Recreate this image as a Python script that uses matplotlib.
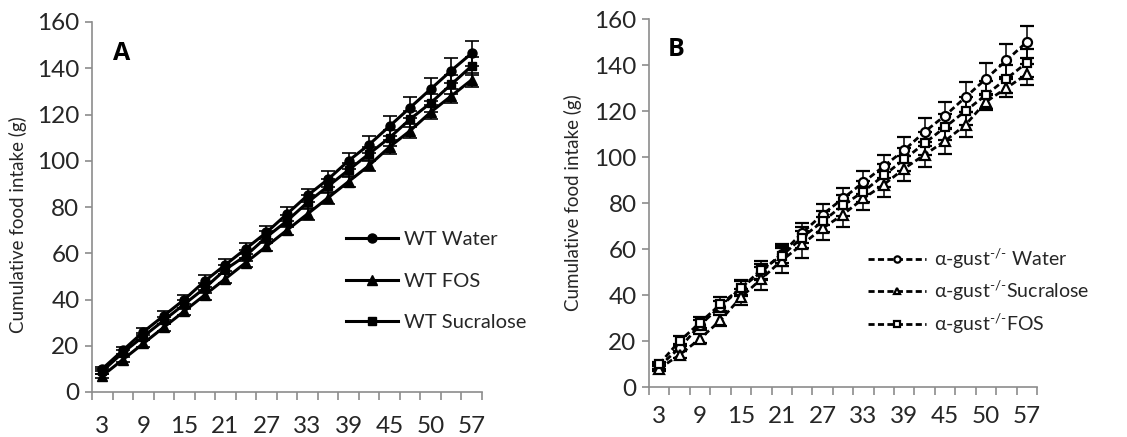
import matplotlib.pyplot as plt
import numpy as np
from matplotlib.ticker import FixedLocator

plt.rcParams['font.family'] = ['Lato', 'DejaVu Sans']
plt.rcParams['mathtext.fontset'] = 'custom'
plt.rcParams['mathtext.rm'] = 'Lato'

# Dados
days = [3, 6, 9, 12, 15, 18, 21, 24, 27, 30, 33, 36, 39, 42, 45, 48, 50, 54, 57]
day_labels = ['3', '', '9', '', '15', '', '21', '', '27', '', '33', '', '39', '', '45', '', '50', '', '57']

wt_water = [10, 18, 26, 33, 40, 48, 55, 62, 69, 77, 85, 92, 100, 107, 115, 123, 131, 139, 146.5]
wt_water_err = [1, 1.5, 1.5, 2, 2, 2.5, 2.5, 2.5, 3, 3, 3, 3.5, 3.5, 3.5, 4.5, 4.7, 5, 5.5, 5.5]
wt_fos = [7, 14, 21, 28, 35, 42, 49, 56, 63, 70, 77, 84, 91, 98, 106, 113, 121, 128, 135]
wt_fos_err = [1, 1, 1.5, 1.5, 1.5, 2, 2, 2, 2, 2, 2.5, 2.5, 2.5, 2.5, 3, 3, 3, 3, 3]
wt_suc = [9, 17, 24, 31, 38, 45, 53, 59, 67, 74, 82, 89, 96, 103, 110, 118, 125, 133, 141]
wt_suc_err = [1, 1, 1.5, 1.5, 2, 2, 2, 2.5, 2.5, 2.5, 3, 3, 3, 3, 3.5, 3.5, 4, 4, 4]

ko_water = [9, 17, 27, 35, 43, 50, 58, 67, 75, 82, 89, 96, 103, 111, 118, 126, 134, 142, 150]
ko_water_err = [1, 1.5, 2, 2.5, 3, 3.5, 4, 4.5, 4.5, 4.7, 5, 5, 5.5, 6, 6, 6.5, 7, 7, 6.8]
ko_suc = [8, 14, 21, 29, 39, 47, 55, 62, 69, 75, 82, 88, 95, 101, 107, 114, 124, 130, 136]
ko_suc_err = [1, 1.5, 2, 2.5, 3.5, 5, 5.5, 6, 5, 5.5, 5, 5.5, 5.5, 5.5, 5.5, 5.5, 3.5, 4, 4.5]
ko_fos = [10, 20, 28, 36, 43, 51, 57, 65, 72, 79, 85, 92, 99, 106, 113, 120, 127, 134, 141]
ko_fos_err = [1, 2, 2.5, 3, 3.5, 4, 4.5, 4.5, 4.5, 4.5, 4.5, 5, 5, 5, 5.5, 6, 6, 6, 6]

yticks = [0, 20, 40, 60, 80, 100, 120, 140, 160]

fig = plt.figure(figsize=(11.27, 4.37), dpi=100)
axA = fig.add_axes([92/1127, 1-392/437, 390/1127, 370/437])
axB = fig.add_axes([649/1127, 1-387/437, 388/1127, 368/437])

x = np.arange(len(days))
gray = '#8c8c8c'
txt = '#262626'


def style_axis(ax, xpad):
    ax.set_xlim(-0.5, len(days)-0.5)
    ax.set_ylim(0, 160)
    for s in ['top', 'right']:
        ax.spines[s].set_visible(False)
    for s in ['left', 'bottom']:
        ax.spines[s].set_color(gray)
        ax.spines[s].set_linewidth(1.2)
    ax.set_yticks(yticks)
    ax.tick_params(axis='y', direction='out', length=5, color=gray, width=1.2,
                   labelsize=17.5, labelcolor=txt, pad=4)
    # marcas entre as categorias, rótulos no centro
    ax.xaxis.set_major_locator(FixedLocator(np.arange(len(days)+1) - 0.5))
    ax.xaxis.set_major_formatter(plt.NullFormatter())
    ax.xaxis.set_minor_locator(FixedLocator(x))
    ax.set_xticklabels(day_labels, minor=True)
    ax.tick_params(axis='x', which='major', direction='out', length=6, color=gray, width=1.2)
    ax.tick_params(axis='x', which='minor', length=0, labelsize=17.5, labelcolor=txt, pad=xpad)


# Painel A
ek = dict(capsize=5, elinewidth=1.2, capthick=1.2, ecolor='black')
axA.errorbar(x, wt_water, yerr=wt_water_err, color='black', lw=2.2, marker='o', ms=6.5,
             label='WT Water', **ek)
axA.errorbar(x, wt_fos, yerr=wt_fos_err, color='black', lw=2.2, marker='^', ms=6.5,
             label='WT FOS', **ek)
axA.errorbar(x, wt_suc, yerr=wt_suc_err, color='black', lw=2.2, marker='s', ms=6,
             label='WT Sucralose', **ek)
style_axis(axA, 17)
fig.text(113/1127, 1-53/437, 'A', fontsize=18, fontweight='bold', va='center',
         family=['Open Sans', 'DejaVu Sans'])
fig.text(18/1127, 1-225/437, 'Cumulative food intake (g)', rotation=90,
         ha='center', va='center', fontsize=13.5, color=txt)
hA, lA = axA.get_legend_handles_labels()
legA = axA.legend([h[0] for h in hA], lA, loc='center left', bbox_to_anchor=(336/1127, 1-281/437),
                  bbox_transform=fig.transFigure, frameon=False, fontsize=14.5,
                  handlelength=2.6, handletextpad=0.3, labelspacing=1.2, borderpad=0)
for t in legA.get_texts():
    t.set_color(txt)

# Painel B
dash = (2.2, 1.2)
ekb = dict(capsize=5, elinewidth=1.1, capthick=1.1, ecolor='black')
sup = r'$^{\text{-/-}}$'
axB.errorbar(x, ko_water, yerr=ko_water_err, color='black', lw=2, ls=(0, dash), marker='o',
             ms=6.5, mfc='white', mew=1.6, label='α-gust' + sup + ' Water', **ekb)
axB.errorbar(x, ko_suc, yerr=ko_suc_err, color='black', lw=2, ls=(0, dash), marker='^',
             ms=6.5, mfc='white', mew=1.6, label='α-gust' + sup + 'Sucralose', **ekb)
axB.errorbar(x, ko_fos, yerr=ko_fos_err, color='black', lw=2, ls=(0, dash), marker='s',
             ms=6, mfc='white', mew=1.6, label='α-gust' + sup + 'FOS', **ekb)
style_axis(axB, 14)
fig.text(668/1127, 1-50/437, 'B', fontsize=18, fontweight='bold', va='center',
         family=['Open Sans', 'DejaVu Sans'])
fig.text(573/1127, 1-203/437, 'Cumulative food intake (g)', rotation=90,
         ha='center', va='center', fontsize=13.5, color=txt)
hB, lB = axB.get_legend_handles_labels()
legB = axB.legend([h[0] for h in hB], lB, loc='center left', bbox_to_anchor=(858/1127, 1-291/437),
                  bbox_transform=fig.transFigure, frameon=False, fontsize=14,
                  handlelength=3.0, handletextpad=0.4, labelspacing=0.4, borderpad=0,
                  markerscale=0.7)
for t in legB.get_texts():
    t.set_color(txt)

plt.savefig('out.png', dpi=100)
